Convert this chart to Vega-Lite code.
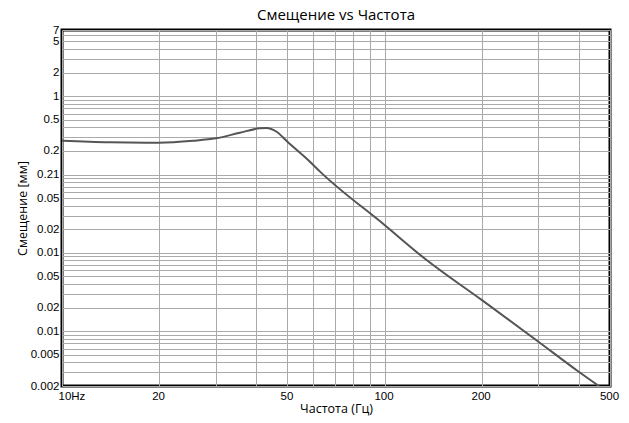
{
  "$schema": "https://vega.github.io/schema/vega-lite/v6.json",
  "autosize": {"type": "none"},
  "padding": {"left": 62, "top": 30, "right": 19, "bottom": 37},
  "width": 548,
  "height": 356,
  "background": "white",
  "title": {"text": "Смещение vs Частота", "font": "Open Sans", "fontSize": 15, "fontWeight": "normal", "color": "#000", "offset": 1},
  "config": {
    "view": {"stroke": "#000", "strokeWidth": 3},
    "axis": {"labelFont": "Liberation Sans", "labelFontSize": 11.5, "labelColor": "#000", "titleFont": "Open Sans", "titleFontSize": 12.5, "titleFontWeight": "normal", "titleColor": "#000", "gridColor": "#aaaaaa", "gridWidth": 1, "gridOpacity": 1, "ticks": false, "domain": false, "labelOverlap": false}
  },
  "data": {"values": [
    {"f": 10, "d": 2.70},
    {"f": 14, "d": 2.58},
    {"f": 20, "d": 2.55},
    {"f": 25.5, "d": 2.70},
    {"f": 30, "d": 2.90},
    {"f": 35.6, "d": 3.42},
    {"f": 41, "d": 3.89},
    {"f": 43, "d": 3.93},
    {"f": 46.3, "d": 3.52},
    {"f": 50, "d": 2.62},
    {"f": 58.7, "d": 1.46},
    {"f": 63.1, "d": 1.09},
    {"f": 100, "d": 0.227},
    {"f": 135, "d": 0.081},
    {"f": 200, "d": 0.0251},
    {"f": 300, "d": 0.00735},
    {"f": 400, "d": 0.00304},
    {"f": 462, "d": 0.002}
  ]},
  "mark": {"type": "line", "color": "#555555", "strokeWidth": 2, "interpolate": "monotone", "clip": true},
  "encoding": {
    "x": {"field": "f", "type": "quantitative", "scale": {"type": "log", "domain": [10, 500], "nice": false},
      "axis": {"title": "Частота (Гц)", "titlePadding": 1, "labelPadding": 4,
        "values": [10, 20, 30, 40, 50, 60, 70, 80, 90, 100, 200, 300, 400, 500],
        "labelExpr": "datum.value==10?'10Hz':datum.value==20?'20':datum.value==50?'50':datum.value==100?'100':datum.value==200?'200':datum.value==500?'500':''",
        "labelAlign": {"condition": {"test": "datum.value == 10", "value": "left"}, "value": "center"},
        "labelOffset": {"condition": {"test": "datum.value == 10", "value": -4}, "value": -1}}},
    "y": {"field": "d", "type": "quantitative", "scale": {"type": "log", "domain": [0.002, 70], "nice": false},
      "axis": {"title": "Смещение [мм]", "titlePadding": 1, "labelPadding": 3,
        "values": [0.002, 0.003, 0.004, 0.005, 0.006, 0.007, 0.008, 0.009, 0.01, 0.02, 0.03, 0.04, 0.05, 0.06, 0.07, 0.08, 0.09, 0.1, 0.2, 0.3, 0.4, 0.5, 0.6, 0.7, 0.8, 0.9, 1, 2, 3, 4, 5, 6, 7, 8, 9, 10, 20, 30, 40, 50, 60, 70],
        "labelExpr": "datum.value==0.002?'0.002':datum.value==0.005?'0.005':datum.value==0.01?'0.01':datum.value==0.02?'0.02':datum.value==0.05?'0.05':datum.value==0.1?'0.01':datum.value==0.2?'0.02':datum.value==0.5?'0.05':datum.value==1?'0.21':datum.value==2?'0.2':datum.value==5?'0.5':datum.value==10?'1':datum.value==20?'2':datum.value==50?'5':datum.value==70?'7':''"}}
  }
}
